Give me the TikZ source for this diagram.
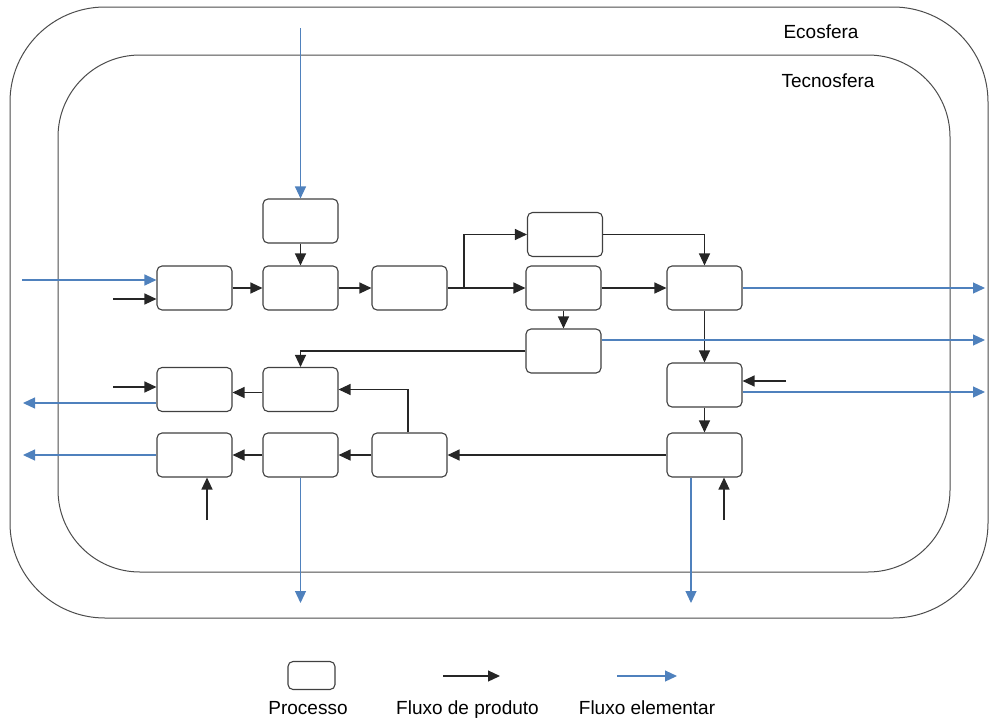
\documentclass[tikz,border=0pt]{standalone}
\usepackage{fontspec}
\setmainfont{Liberation Sans}
\usetikzlibrary{arrows.meta,calc}
\definecolor{elemblue}{RGB}{79,129,189}
\tikzset{
  proc/.style={draw=black!75, line width=1.1pt, rounded corners=5pt,
    minimum width=75pt, minimum height=44pt, inner sep=0pt, fill=white},
  prodflow/.style={draw=black!85, line width=1.2pt,
    -{Triangle[length=12pt,width=11pt]}},
  elemflow/.style={draw=elemblue, line width=1.2pt,
    -{Triangle[length=12pt,width=11pt]}},
  sphere/.style={draw=black!70, line width=1pt},
  lbl/.style={font=\fontsize{19}{22}\selectfont, inner sep=0pt, anchor=base}
}
\begin{document}
\begin{tikzpicture}[x=1pt,y=-1pt]
\useasboundingbox (0,0) rectangle (990,718);

% spheres
\draw[sphere, rounded corners=95pt] (10,7) rectangle (988,618);
\draw[sphere, rounded corners=82pt] (58,55) rectangle (950,572);
\node[lbl] (eco) at (821,38) {Ecosfera};
\node[lbl] (tec) at (828,87) {Tecnosfera};

% processes
\node[proc] (T1) at (300.5,221) {};
\node[proc] (U)  at (565,234.5) {};
\node[proc] (B1) at (194.5,288) {};
\node[proc] (B2) at (300.5,288) {};
\node[proc] (B3) at (409.5,288) {};
\node[proc] (B4) at (563.5,288) {};
\node[proc] (B5) at (704.5,288) {};
\node[proc] (C)  at (563.5,351) {};
\node[proc] (E1) at (194.5,389.5) {};
\node[proc] (E2) at (300.5,389.5) {};
\node[proc] (D1) at (704.5,385) {};
\node[proc] (F1) at (194.5,455) {};
\node[proc] (F2) at (300.5,455) {};
\node[proc] (F3) at (409.5,455) {};
\node[proc] (F4) at (704.5,455) {};

% free ends of the flows
\coordinate (inTop) at (300.5,28);
\coordinate (inB1e) at (22,280);
\coordinate (inB1p) at (113,299);
\coordinate (inE1) at (113,387);
\coordinate (inD1) at (786,381);
\coordinate (inF1) at (207,520);
\coordinate (inF4) at (724,520);
\coordinate (outR) at (985,0);
\coordinate (outL) at (23,0);
\coordinate (outB) at (0,603);
\coordinate (split) at (464,288);

% product flows
\draw[prodflow] (inB1p) -- (inB1p -| B1.west);
\draw[prodflow] (T1.south) -- (B2.north);
\draw[prodflow] (B1.east) -- (B2.west);
\draw[prodflow] (B2.east) -- (B3.west);
\draw[prodflow] (B3.east) -- (B4.west);
\draw[prodflow] (split) |- (U.west);
\draw[prodflow] (U.east) -| (B5.north);
\draw[prodflow] (B4.east) -- (B5.west);
\draw[prodflow] (B4.south) -- (C.north);
\draw[prodflow] (C.west) -| (E2.north);
\draw[prodflow] (B5.south) -- (D1.north);
\draw[prodflow] (inD1) -- (inD1 -| D1.east);
\draw[prodflow] (D1.south) -- (F4.north);
\draw[prodflow] (F4.west) -- (F3.east);
\draw[prodflow] ([xshift=-1.5pt]F3.north) |- (E2.east);
\draw[prodflow] (F3.west) -- (F2.east);
\draw[prodflow] (F2.west) -- (F1.east);
\draw[prodflow] ([yshift=-3pt]E2.west) -- ([yshift=-3pt]E1.east);
\draw[prodflow] (inE1) -- (inE1 -| E1.west);
\draw[prodflow] (inF1) -- (inF1 |- F1.south);
\draw[prodflow] (inF4) -- (inF4 |- F4.south);

% elementary flows
\draw[elemflow] (inTop) -- (T1.north);
\draw[elemflow] (inB1e) -- (inB1e -| B1.west);
\draw[elemflow] (B5.east) -- (B5.east -| outR);
\draw[elemflow] ([yshift=11pt]C.east) -- ([yshift=11pt]C.east -| outR);
\draw[elemflow] ([yshift=-7pt]D1.east) -- ([yshift=-7pt]D1.east -| outR);
\draw[elemflow] ([yshift=-13.5pt]E1.west) -- ([yshift=-13.5pt]E1.west -| outL);
\draw[elemflow] (F1.west) -- (F1.west -| outL);
\draw[elemflow] (F2.south) -- (F2.south |- outB);
\draw[elemflow] ([xshift=-13.5pt]F4.south) -- ([xshift=-13.5pt]F4.south |- outB);

% legend
\node[proc, minimum width=47pt, minimum height=28pt] (lgbox) at (311.5,675.5) {};
\coordinate (lgp1) at (443,676);
\coordinate (lgp2) at (500,676);
\coordinate (lge1) at (617,676);
\coordinate (lge2) at (677,676);
\draw[prodflow] (lgp1) -- (lgp2);
\draw[elemflow] (lge1) -- (lge2);
\node[lbl] (lgt1) at (308,714) {Processo};
\node[lbl] (lgt2) at (467.5,714) {Fluxo de produto};
\node[lbl] (lgt3) at (647,714) {Fluxo elementar};
\end{tikzpicture}
\end{document}
